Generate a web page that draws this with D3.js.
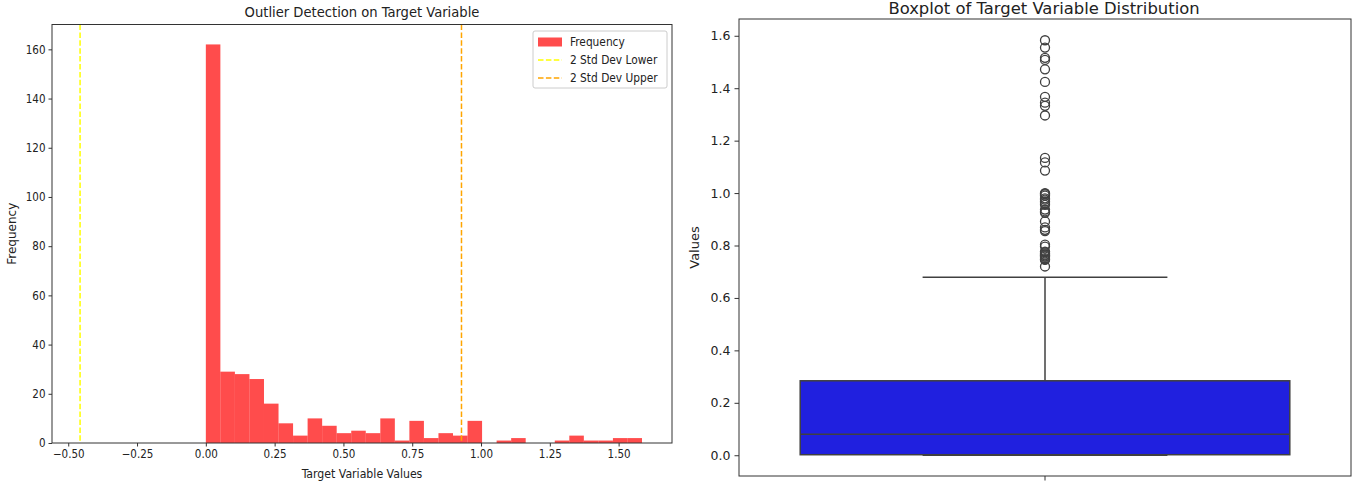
<!DOCTYPE html>
<html>
<head>
<meta charset="utf-8">
<script src="https://cdn.jsdelivr.net/npm/d3@7/dist/d3.min.js"></script>
<style>
  body { margin: 0; background: #fff; }
  text { font-family: "DejaVu Sans", sans-serif; fill: #222; }
  .cond { font-family: "DejaVu Sans Condensed", "DejaVu Sans", sans-serif; font-stretch: condensed; }
</style>
</head>
<body>
<svg id="chart" width="1354" height="487"></svg>
<script>
// histogram: 30 bins between 0 and binMax
let binCounts = [162, 29, 28, 26, 16, 8, 3, 10, 7, 4, 5, 4, 10, 1, 9, 2, 4, 3, 9, 0, 1, 2, 0, 0, 1, 3, 1, 1, 2, 2];
let binMin = 0;
let binMax = 1.585;
let lowerLine = -0.457;
let upperLine = 0.929;
let freqTicks = [0, 20, 40, 60, 80, 100, 120, 140, 160];
let valueTicks = [-0.5, -0.25, 0, 0.25, 0.5, 0.75, 1.0, 1.25, 1.5];

// boxplot
let boxStats = { low: 0.0, q1: 0.002, median: 0.080, q3: 0.284, high: 0.679 };
let outliers = [1.583, 1.555, 1.516, 1.508, 1.472, 1.424, 1.367, 1.345, 1.333, 1.296,
    1.134, 1.117, 1.086, 1.000, 0.998, 0.995, 0.990, 0.980, 0.975, 0.968, 0.962, 0.955,
    0.937, 0.930, 0.925, 0.892, 0.869, 0.860, 0.855, 0.803, 0.796,
    0.777, 0.775, 0.770, 0.765, 0.762, 0.758, 0.752, 0.748, 0.745, 0.720];
let boxTicks = [0.0, 0.2, 0.4, 0.6, 0.8, 1.0, 1.2, 1.4, 1.6];

let svg = d3.select('#chart');

// ---------- left: histogram ----------
let L = { left: 52, right: 672, top: 24.5, bottom: 443 };
let x = d3.scaleLinear().domain([-0.559, 1.694]).range([L.left, L.right]);
let y = d3.scaleLinear().domain([0, 170.1]).range([L.bottom, L.top]);
let binW = (binMax - binMin) / binCounts.length;

let left = svg.append('g');

left.selectAll('rect.bar')
    .data(binCounts)
    .enter()
    .append('rect')
    .attr('class', 'bar')
    .attr('x', function (d, i) { return x(binMin + i * binW); })
    .attr('width', function () { return x(binW) - x(0); })
    .attr('y', function (d) { return y(d); })
    .attr('height', function (d) { return y(0) - y(d); })
    .style('fill', 'red')
    .style('fill-opacity', 0.7);

left.append('line')
    .attr('x1', x(lowerLine)).attr('x2', x(lowerLine))
    .attr('y1', L.top).attr('y2', L.bottom)
    .style('stroke', 'yellow').style('stroke-width', 1.5).style('stroke-dasharray', '5.5,2.4');
left.append('line')
    .attr('x1', x(upperLine)).attr('x2', x(upperLine))
    .attr('y1', L.top).attr('y2', L.bottom)
    .style('stroke', 'orange').style('stroke-width', 1.5).style('stroke-dasharray', '5.5,2.4');

left.append('rect')
    .attr('x', L.left).attr('y', L.top)
    .attr('width', L.right - L.left).attr('height', L.bottom - L.top)
    .style('fill', 'none').style('stroke', '#333').style('stroke-width', 1);

let xAxis = left.append('g')
    .attr('transform', 'translate(0,' + L.bottom + ')')
    .call(d3.axisBottom(x).tickValues(valueTicks).tickSize(3.5).tickPadding(3)
        .tickFormat(d3.format('.2f')));
let yAxis = left.append('g')
    .attr('transform', 'translate(' + L.left + ',0)')
    .call(d3.axisLeft(y).tickValues(freqTicks).tickSize(3.5).tickPadding(3));
[xAxis, yAxis].forEach(function (a) {
    a.select('.domain').remove();
    a.selectAll('line').style('stroke', '#333');
    a.selectAll('text').attr('class', 'cond').style('font-size', '11.5px').style('fill', '#222');
});
xAxis.selectAll('text').text(function (d) { return d3.format('.2f')(d).replace('-', '\u2212'); });

left.append('text')
    .attr('class', 'cond')
    .attr('x', (L.left + L.right) / 2).attr('y', 17)
    .attr('text-anchor', 'middle').style('font-size', '14.6px')
    .text('Outlier Detection on Target Variable');
left.append('text')
    .attr('class', 'cond')
    .attr('x', (L.left + L.right) / 2).attr('y', 478)
    .attr('text-anchor', 'middle').style('font-size', '12.2px')
    .text('Target Variable Values');
left.append('text')
    .attr('transform', 'translate(16,' + (L.top + L.bottom) / 2 + ') rotate(-90)')
    .attr('text-anchor', 'middle').style('font-size', '12px')
    .text('Frequency');

// legend
let legend = left.append('g').attr('transform', 'translate(533,31)');
legend.append('rect')
    .attr('width', 134).attr('height', 57).attr('rx', 2)
    .style('fill', '#fff').style('fill-opacity', 0.8).style('stroke', '#ccc');
let legendItems = ['Frequency', '2 Std Dev Lower', '2 Std Dev Upper'];
let legendColors = ['red', 'yellow', 'orange'];
legendItems.forEach(function (name, i) {
    let g = legend.append('g').attr('transform', 'translate(0,' + (11 + i * 18) + ')');
    if (i === 0) {
        g.append('rect').attr('x', 5).attr('y', -4.5).attr('width', 24).attr('height', 9)
            .style('fill', legendColors[i]).style('fill-opacity', 0.7);
    } else {
        g.append('line').attr('x1', 5).attr('x2', 29).attr('y1', 0).attr('y2', 0)
            .style('stroke', legendColors[i]).style('stroke-width', 1.5)
            .style('stroke-dasharray', '5.5,2.4');
    }
    g.append('text').attr('class', 'cond').attr('x', 37).attr('y', 4).style('font-size', '11.8px').text(name);
});

// ---------- right: boxplot ----------
let R = { left: 739, right: 1351, top: 19, bottom: 476 };
let by = d3.scaleLinear().domain([-0.0792, 1.664]).range([R.bottom, R.top]);
let bx = d3.scaleBand().domain(['target']).range([R.left, R.right]);
let cx = bx('target') + bx.bandwidth() / 2;
let boxW = bx.bandwidth() * 0.8;
let capW = boxW / 2;
let lineCol = '#404040';

let right = svg.append('g');

right.append('line')
    .attr('x1', cx).attr('x2', cx).attr('y1', by(boxStats.q3)).attr('y2', by(boxStats.high))
    .style('stroke', lineCol).style('stroke-width', 1.5);
right.append('line')
    .attr('x1', cx).attr('x2', cx).attr('y1', by(boxStats.q1)).attr('y2', by(boxStats.low))
    .style('stroke', lineCol).style('stroke-width', 1.5);
[boxStats.high, boxStats.low].forEach(function (v) {
    right.append('line')
        .attr('x1', cx - capW / 2).attr('x2', cx + capW / 2).attr('y1', by(v)).attr('y2', by(v))
        .style('stroke', lineCol).style('stroke-width', 1.5);
});
right.append('rect')
    .attr('x', cx - boxW / 2).attr('width', boxW)
    .attr('y', by(boxStats.q3)).attr('height', by(boxStats.q1) - by(boxStats.q3))
    .style('fill', '#2020df').style('stroke', lineCol).style('stroke-width', 1.5);
right.append('line')
    .attr('x1', cx - boxW / 2).attr('x2', cx + boxW / 2)
    .attr('y1', by(boxStats.median)).attr('y2', by(boxStats.median))
    .style('stroke', lineCol).style('stroke-width', 1.5);

right.selectAll('circle')
    .data(outliers)
    .enter()
    .append('circle')
    .attr('cx', cx)
    .attr('cy', function (d) { return by(d); })
    .attr('r', 4.5)
    .style('fill', 'none').style('stroke', lineCol).style('stroke-width', 1.3);

right.append('rect')
    .attr('x', R.left).attr('y', R.top)
    .attr('width', R.right - R.left).attr('height', R.bottom - R.top)
    .style('fill', 'none').style('stroke', '#333').style('stroke-width', 1);

let byAxis = right.append('g')
    .attr('transform', 'translate(' + R.left + ',0)')
    .call(d3.axisLeft(by).tickValues(boxTicks).tickSize(4.5).tickPadding(4).tickFormat(d3.format('.1f')));
let bxAxis = right.append('g')
    .attr('transform', 'translate(0,' + R.bottom + ')')
    .call(d3.axisBottom(bx).tickSize(4.5).tickFormat(''));
[byAxis, bxAxis].forEach(function (a) {
    a.select('.domain').remove();
    a.selectAll('line').style('stroke', '#333');
    a.selectAll('text').style('font-size', '12.5px').style('fill', '#222').style('font-family', '"DejaVu Sans", sans-serif');
});

right.append('text')
    .attr('x', (R.left + R.right) / 2 - 1).attr('y', 14)
    .attr('text-anchor', 'middle').style('font-size', '16.4px')
    .text('Boxplot of Target Variable Distribution');
right.append('text')
    .attr('transform', 'translate(699,' + (R.top + R.bottom) / 2 + ') rotate(-90)')
    .attr('text-anchor', 'middle').style('font-size', '13px')
    .text('Values');
</script>
</body>
</html>
